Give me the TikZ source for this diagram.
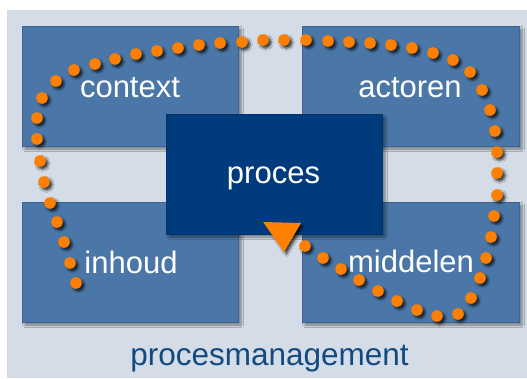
\documentclass[tikz,border=0pt]{standalone}
\usepackage{fontspec}
\setmainfont{Liberation Sans}
\usetikzlibrary{shadows.blur}

\definecolor{panel}{HTML}{D4DCE7}
\definecolor{areabox}{HTML}{4A77A8}
\definecolor{corebox}{HTML}{003B7E}
\definecolor{flow}{HTML}{FF8000}
\definecolor{caption}{HTML}{124A80}

\tikzset{
  softshadow/.style={blur shadow={shadow xshift=3pt, shadow yshift=-3pt,
      shadow blur radius=2.5pt, shadow opacity=45}},
  dotshadow/.style={blur shadow={shadow xshift=2.5pt, shadow yshift=-2.5pt,
      shadow blur radius=2pt, shadow opacity=70}},
  area/.style={fill=areabox, draw=areabox!85!black, line width=0.4pt,
      softshadow},
  core/.style={fill=corebox, draw=corebox!85!black, line width=0.4pt,
      softshadow},
  boxlabel/.style={text=white, font=\fontsize{31}{31}\selectfont,
      anchor=base, inner sep=0pt},
  dot/.style={fill=flow, dotshadow},
}

\begin{document}
\begin{tikzpicture}[x=1pt, y=-1pt]
  \useasboundingbox (0,0) rectangle (527,378);
  \fill[white] (0,0) rectangle (527,378);
  \fill[panel] (7,10) rectangle (527,378);

  % four aspect boxes
  \draw[area] (22,26)   rectangle (238,146);
  \draw[area] (302,26)  rectangle (519,146);
  \draw[area] (22,202)  rectangle (238,322);
  \draw[area] (302,202) rectangle (519,322);

  % central process box
  \draw[core] (166,114) rectangle (382,234);

  \node[boxlabel] (context)  at (130,97)  {context};
  \node[boxlabel] (actoren)  at (410,97)  {actoren};
  \node[boxlabel] (inhoud)   at (131,273) {inhoud};
  \node[boxlabel] (middelen) at (411,272) {middelen};
  \node[boxlabel] (proces)   at (273.5,183) {proces};

  \node[text=caption, font=\fontsize{31.5}{31.5}\selectfont, anchor=base,
        inner sep=0pt] (management) at (269.5,365) {procesmanagement};

  % dotted cycle around the process
  \foreach \px/\py in {
      76/283, 70/263, 64/242, 57/222, 50/203, 44/182, 40/161, 37/139,
      37/118, 42/98, 56/81, 74/70, 95/64, 115/59, 136/54, 157/51,
      178/48, 199/45, 220/43, 242/42, 263/40, 284/40, 306/40, 328/41,
      349/42, 370/43, 391/45, 412/48, 433/53, 453/60, 470/72, 482/90,
      490/110, 495/131, 497/152, 497/173, 497/195, 494/216, 491/237,
      486/258, 480/278, 471/298, 458/314, 437/316, 417/310, 397/301,
      378/291, 359/280, 341/269, 323/258, 305/246}
    \fill[dot] (\px,\py) circle (5.8pt);

  % arrow head closing the cycle
  \fill[flow, dotshadow] (263,222) -- (301,223) -- (284,252) -- cycle;
\end{tikzpicture}
\end{document}
